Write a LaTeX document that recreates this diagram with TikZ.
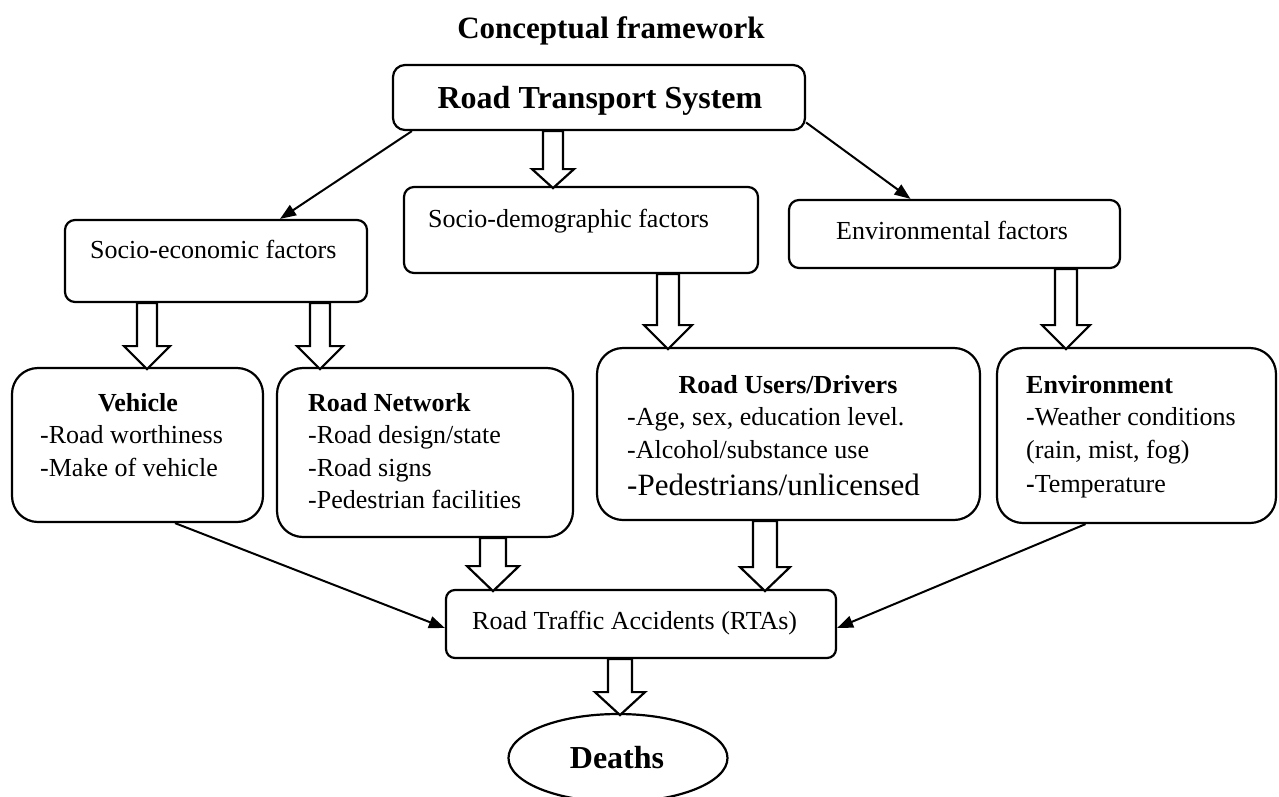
\documentclass[tikz,border=0pt]{standalone}
\usepackage{fontspec}
\setmainfont{Liberation Serif}
\usetikzlibrary{shapes.geometric,arrows.meta,calc}
\tikzset{
  box/.style={draw, line width=2.2pt, inner sep=0pt},
  txt/.style={inner sep=0pt, anchor=base west, font=\fontsize{26}{31}\selectfont},
  ctxt/.style={inner sep=0pt, anchor=base, font=\fontsize{26}{31}\selectfont},
  blk/.style={draw, fill=white, line width=2.2pt, line join=miter},
  conn/.style={line width=2pt, -{Triangle[length=16pt,width=12pt]}}
}
\newcommand{\barrow}[5]{%
  \draw[blk] (#1) ++(-#4,0) -- ++(0,{#2-#3}) -- ++({#4-#5},0) -- ++(#5,#3) -- ++(#5,-#3) -- ++({#4-#5},0) -- ++(0,{#3-#2}) -- cycle;}
\begin{document}
\begin{tikzpicture}[x=1pt,y=-1pt]
\useasboundingbox (0,0) rectangle (1279,796);
% title
\node[inner sep=0pt, anchor=base, font=\fontsize{31}{36}\selectfont\bfseries] (title) at (611,38) {Conceptual framework};
% boxes
\node[box, rounded corners=12pt, minimum width=412pt, minimum height=65pt] (top) at (599,97.5) {};
\node[box, rounded corners=10pt, minimum width=302pt, minimum height=82pt] (socecon) at (216,261) {};
\node[box, rounded corners=10pt, minimum width=354pt, minimum height=86pt] (socdem) at (581,230) {};
\node[box, rounded corners=10pt, minimum width=331pt, minimum height=68pt] (envf) at (954.5,234) {};
\node[box, rounded corners=26pt, minimum width=251pt, minimum height=154pt] (veh) at (137.5,445) {};
\node[box, rounded corners=26pt, minimum width=296pt, minimum height=169pt] (net) at (425,452.5) {};
\node[box, rounded corners=26pt, minimum width=383pt, minimum height=172pt] (users) at (788.5,434) {};
\node[box, rounded corners=26pt, minimum width=279pt, minimum height=175pt] (env) at (1136.5,435.5) {};
\node[box, rounded corners=9pt, minimum width=390pt, minimum height=68pt] (rta) at (641,624) {};
\node[box, ellipse, minimum width=219pt, minimum height=88pt] (deaths) at (618,758) {};
% texts
\node[inner sep=0pt, anchor=base, font=\fontsize{32}{36}\selectfont\bfseries] (topT) at (600,108) {Road Transport System};
\node[txt] (socT) at (90,258) {Socio-economic factors};
\node[txt] (sdT) at (428,227) {Socio-demographic factors};
\node[txt] (efT) at (836,239) {Environmental factors};
\node[ctxt, font=\fontsize{26}{31}\selectfont\bfseries] (vehH) at (138,411) {Vehicle};
\node[txt] (veh1) at (40,443) {-Road worthiness};
\node[txt] (veh2) at (40,476) {-Make of vehicle};
\node[txt, font=\fontsize{26}{31}\selectfont\bfseries] (netH) at (308,411) {Road Network};
\node[txt] (net1) at (308,443) {-Road design/state};
\node[txt] (net2) at (308,476) {-Road signs};
\node[txt] (net3) at (308,508) {-Pedestrian facilities};
\node[ctxt, font=\fontsize{26}{31}\selectfont\bfseries] (usH) at (788,393) {Road Users/Drivers};
\node[txt] (us1) at (627,425) {-Age, sex, education level.};
\node[txt] (us2) at (627,458) {-Alcohol/substance use};
\node[txt, font=\fontsize{31}{36}\selectfont] (us3) at (627,495) {-Pedestrians/unlicensed};
\node[txt, font=\fontsize{26}{31}\selectfont\bfseries] (envH) at (1026,393) {Environment};
\node[txt] (env1) at (1026,425) {-Weather conditions};
\node[txt] (env2) at (1026,458) {(rain, mist, fog)};
\node[txt] (env3) at (1026,492) {\textbf{-}Temperature};
\node[txt] (rtaT) at (472,629) {Road Traffic Accidents (RTAs)};
\node[inner sep=0pt, anchor=base, font=\fontsize{32}{36}\selectfont\bfseries] (deT) at (617,768) {Deaths};
% connectors
\draw[conn] ([xshift=20pt]top.south west) -- ([xshift=64pt]socecon.north);
\draw[conn] ([yshift=-25pt]top.east) -- ([xshift=-44pt]envf.north);
\draw[conn] ([xshift=37.5pt]veh.south) -- ([yshift=-4pt]rta.west);
\draw[conn] ([xshift=-51pt]env.south) -- ([yshift=-4pt]rta.east);
% block arrows
\barrow{[xshift=-46pt]top.south}{57}{19}{10}{21}
\barrow{[xshift=-69pt]socecon.south}{66}{23}{10}{23}
\barrow{[xshift=104pt]socecon.south}{66}{23}{10}{23}
\barrow{[xshift=87pt]socdem.south}{75}{24}{11}{24}
\barrow{[xshift=111.5pt]envf.south}{80}{24}{11}{24}
\barrow{[xshift=68pt]net.south}{53}{25}{13}{26}
\barrow{[xshift=-23.5pt]users.south}{70}{24}{12}{25}
\barrow{[xshift=-21pt]rta.south}{56}{23}{12}{25}
\end{tikzpicture}
\end{document}
